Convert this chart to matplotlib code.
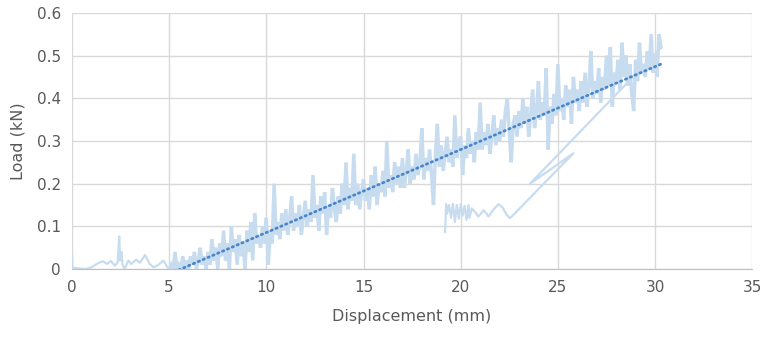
import numpy as np
import matplotlib
matplotlib.use("Agg")
import matplotlib.pyplot as plt

# pre-load part
pre_disp = [0.0, 0.02, 0.3, 0.7, 1.0, 1.2, 1.4, 1.6, 1.8, 2.0, 2.2, 2.35, 2.43, 2.47, 2.55, 2.6, 2.7,
            2.9, 3.05, 3.3, 3.5, 3.76, 4.0, 4.2, 4.45, 4.7, 4.9, 5.0]
pre_load = [0.035, 0.003, 0.002, 0.0, 0.004, 0.01, 0.015, 0.018, 0.012, 0.019, 0.008, 0.015, 0.076,
            0.02, 0.04, 0.01, 0.0, 0.02, 0.012, 0.022, 0.015, 0.033, 0.012, 0.004, 0.01, 0.02, 0.005,
            0.0]

# loading part, one row per mm starting at 5.0 mm, 0.1 mm apart
load_rows = [
    [0.00, 0.01, 0.00, 0.04, 0.00, 0.01, 0.00, 0.03, 0.00, 0.02],
    [0.00, 0.03, 0.01, 0.04, 0.00, 0.02, 0.05, 0.01, 0.03, 0.00],
    [0.04, 0.01, 0.07, 0.02, 0.05, 0.00, 0.06, 0.03, 0.09, 0.02],
    [0.06, 0.00, 0.10, 0.04, 0.07, 0.01, 0.08, 0.03, 0.06, 0.00],
    [0.09, 0.04, 0.11, 0.02, 0.13, 0.06, 0.08, 0.05, 0.10, 0.06],
    [0.12, 0.01, 0.09, 0.06, 0.20, 0.08, 0.11, 0.07, 0.13, 0.09],
    [0.14, 0.08, 0.12, 0.17, 0.09, 0.13, 0.10, 0.15, 0.08, 0.12],
    [0.16, 0.10, 0.14, 0.11, 0.22, 0.12, 0.15, 0.09, 0.17, 0.13],
    [0.18, 0.08, 0.15, 0.12, 0.19, 0.14, 0.11, 0.17, 0.13, 0.20],
    [0.15, 0.25, 0.14, 0.19, 0.16, 0.27, 0.15, 0.20, 0.14, 0.18],
    [0.21, 0.16, 0.19, 0.14, 0.22, 0.17, 0.24, 0.15, 0.20, 0.18],
    [0.23, 0.17, 0.30, 0.19, 0.22, 0.18, 0.25, 0.20, 0.24, 0.19],
    [0.26, 0.19, 0.23, 0.28, 0.20, 0.24, 0.21, 0.27, 0.22, 0.25],
    [0.33, 0.21, 0.26, 0.23, 0.28, 0.22, 0.15, 0.27, 0.34, 0.24],
    [0.29, 0.23, 0.27, 0.31, 0.25, 0.28, 0.24, 0.36, 0.26, 0.30],
    [0.31, 0.22, 0.29, 0.26, 0.33, 0.27, 0.30, 0.25, 0.32, 0.28],
    [0.39, 0.28, 0.32, 0.29, 0.34, 0.27, 0.31, 0.36, 0.29, 0.33],
    [0.30, 0.35, 0.31, 0.37, 0.40, 0.32, 0.25, 0.34, 0.36, 0.31],
    [0.37, 0.33, 0.40, 0.34, 0.38, 0.31, 0.36, 0.42, 0.33, 0.37],
    [0.44, 0.35, 0.39, 0.36, 0.47, 0.28, 0.38, 0.34, 0.41, 0.36],
    [0.48, 0.37, 0.40, 0.35, 0.43, 0.38, 0.42, 0.34, 0.45, 0.39],
    [0.42, 0.37, 0.44, 0.39, 0.46, 0.38, 0.43, 0.51, 0.40, 0.44],
    [0.41, 0.47, 0.39, 0.45, 0.42, 0.50, 0.43, 0.52, 0.38, 0.46],
    [0.44, 0.49, 0.42, 0.53, 0.45, 0.50, 0.43, 0.48, 0.41, 0.37],
    [0.49, 0.44, 0.53, 0.46, 0.48, 0.45, 0.51, 0.47, 0.55, 0.46],
    [0.50, 0.45, 0.55, 0.52],
]
main_load = [v for row in load_rows for v in row]
main_disp = np.round(5.0 + 0.1 * np.arange(len(main_load)), 2)

# unloading tail
tail_disp = [30.3, 30.35, 23.57, 25.8, 22.54, 22.35, 22.15, 21.94, 21.7, 21.43, 21.3, 21.17, 21.05,
             20.9, 20.75, 20.57, 20.45, 20.4, 20.3, 20.2, 20.1, 20.0, 19.9, 19.8, 19.7, 19.6, 19.5,
             19.4, 19.3, 19.25, 19.2]
tail_load = [0.52, 0.52, 0.20, 0.271, 0.119, 0.128, 0.145, 0.152, 0.14, 0.123, 0.132, 0.138, 0.13,
             0.123, 0.133, 0.142, 0.12, 0.15, 0.115, 0.148, 0.125, 0.152, 0.118, 0.15, 0.11, 0.153,
             0.12, 0.15, 0.13, 0.152, 0.087]

# linear trendline
trend_slope = 0.01943
trend_intercept = -0.1088

trace_color = "#c8dcf0"

fig = plt.figure(figsize=(7.66, 3.38), dpi=100)
ax = fig.add_axes([0.094, 0.204, 0.888, 0.758])

ax.plot(pre_disp, pre_load, color=trace_color, linewidth=1.6, zorder=2)
ax.plot(main_disp, main_load, color=trace_color, linewidth=2.5, solid_joinstyle="miter", zorder=2)
ax.plot(tail_disp, tail_load, color=trace_color, linewidth=1.6, zorder=2)

tx = np.array([0.0, 30.35])
ax.plot(tx, trend_slope * tx + trend_intercept, color="#4a86c8", linewidth=2.0,
        linestyle=(0, (0.5, 1.4)), dash_capstyle="round", zorder=3)

ax.set_xlim(0, 35)
ax.set_ylim(0, 0.6)
ax.set_xticks([0, 5, 10, 15, 20, 25, 30, 35])
ax.set_yticks([0, 0.1, 0.2, 0.3, 0.4, 0.5, 0.6])
ax.set_yticklabels(["0", "0.1", "0.2", "0.3", "0.4", "0.5", "0.6"])
ax.grid(True, color="#d9d9d9", linewidth=1)
ax.set_axisbelow(True)
for s in ["top", "right", "left"]:
    ax.spines[s].set_visible(False)
ax.spines["bottom"].set_color("#bfbfbf")
ax.tick_params(length=0, labelsize=11, labelcolor="#595959", pad=8)
ax.set_xlabel("Displacement (mm)", fontsize=11.5, color="#595959", labelpad=10)
ax.set_ylabel("Load (kN)", fontsize=11.5, color="#595959", labelpad=8)

fig.savefig("out.png", dpi=100)
